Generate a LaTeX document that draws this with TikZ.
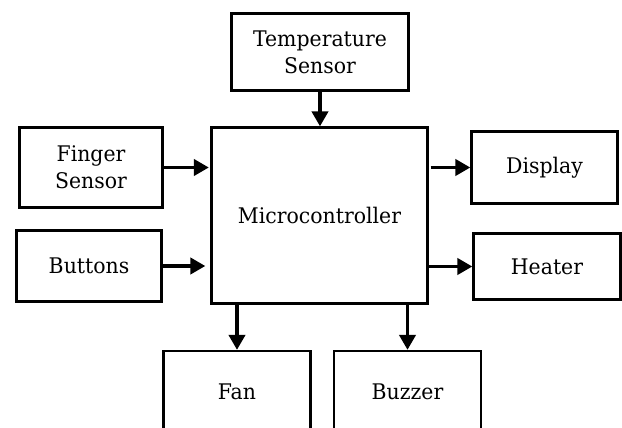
\documentclass[tikz,border=0pt]{standalone}
\usepackage{fontspec}
\setmainfont{DejaVu Serif}[FakeStretch=0.95]
\usetikzlibrary{arrows.meta}
\begin{document}
\begin{tikzpicture}[x=1pt,y=-1pt,
  blk/.style={draw=black, line width=2.2pt, fill=white, inner sep=0pt, align=center,
    font=\fontsize{21.5}{27}\selectfont},
  conn/.style={line width=3.8pt, -{Triangle[length=15pt,width=16pt]}}]
\useasboundingbox (0,0) rectangle (622,428);
\clip (0,0) rectangle (622,428);
\fill[white] (0,0) rectangle (622,428);
\node[blk, minimum width=177pt, minimum height=77pt] (temp) at (320,52) {Temperature\\Sensor};
\node[blk, minimum width=216pt, minimum height=176pt] (micro) at (319.5,215.5) {Microcontroller};
\node[blk, minimum width=143pt, minimum height=80pt] (finger) at (91,167.5) {Finger\\Sensor};
\node[blk, minimum width=145pt, minimum height=71pt] (buttons) at (89,266) {Buttons};
\node[blk, minimum width=146pt, minimum height=72pt] (display) at (544.5,167.5) {Display};
\node[blk, minimum width=147pt, minimum height=66pt] (heater) at (547,266.5) {Heater};
\node[blk, minimum width=147pt, minimum height=82pt] (fan) at (237,392) {Fan};
\node[blk, minimum width=147pt, minimum height=82pt] (buzzer) at (407.5,392) {Buzzer};
\draw[conn] (temp.south) -- (temp.south |- micro.north);
\draw[conn, shorten >=1.5pt] (finger.east) -- (finger.east -| micro.west);
\draw[conn, shorten >=5pt] (buttons.east) -- (buttons.east -| micro.west);
\draw[conn, shorten <=2pt] (micro.east |- display.west) -- (display.west);
\draw[conn] (micro.east |- heater.west) -- (heater.west);
\draw[conn] (fan.north |- micro.south) -- (fan.north);
\draw[conn] (buzzer.north |- micro.south) -- (buzzer.north);
\end{tikzpicture}
\end{document}
